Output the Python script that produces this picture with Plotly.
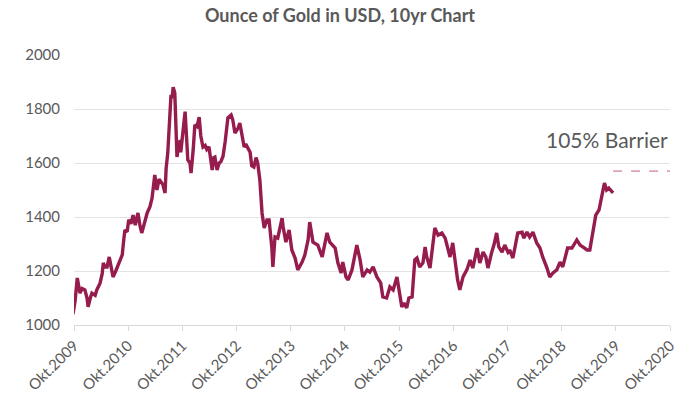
import plotly.graph_objects as go

# time in decimal years, price in USD per ounce
years = [2009.73, 2009.77, 2009.81, 2009.82, 2009.86, 2009.90, 2009.95, 2009.99, 2010.01, 2010.05,
         2010.08, 2010.14, 2010.17, 2010.23, 2010.27, 2010.29, 2010.32, 2010.36, 2010.40, 2010.43,
         2010.47, 2010.52, 2010.60, 2010.64, 2010.67, 2010.69, 2010.73, 2010.76, 2010.80, 2010.84,
         2010.88, 2010.91, 2010.93, 2010.97, 2011.00, 2011.06, 2011.10, 2011.15, 2011.19, 2011.24,
         2011.28, 2011.32, 2011.36, 2011.39, 2011.43, 2011.45, 2011.48, 2011.50, 2011.54, 2011.56,
         2011.58, 2011.61, 2011.63, 2011.65, 2011.67, 2011.71, 2011.72, 2011.76, 2011.80, 2011.82,
         2011.83, 2011.85, 2011.89, 2011.91, 2011.95, 2011.98, 2012.02, 2012.06, 2012.09, 2012.13,
         2012.17, 2012.20, 2012.24, 2012.28, 2012.30, 2012.33, 2012.35, 2012.39, 2012.43, 2012.46,
         2012.50, 2012.54, 2012.59, 2012.65, 2012.68, 2012.72, 2012.78, 2012.81, 2012.85, 2012.89,
         2012.92, 2012.96, 2013.00, 2013.03, 2013.07, 2013.11, 2013.14, 2013.18, 2013.22, 2013.26,
         2013.31, 2013.35, 2013.40, 2013.42, 2013.46, 2013.51, 2013.59, 2013.61, 2013.66, 2013.72,
         2013.77, 2013.83, 2013.88, 2013.96, 2014.01, 2014.07, 2014.10, 2014.16, 2014.25, 2014.33,
         2014.38, 2014.42, 2014.47, 2014.57, 2014.62, 2014.68, 2014.71, 2014.77, 2014.81, 2014.88,
         2014.97, 2015.03, 2015.08, 2015.16, 2015.21, 2015.27, 2015.34, 2015.41, 2015.45, 2015.52,
         2015.58, 2015.64, 2015.71, 2015.75, 2015.80, 2015.84, 2015.89, 2015.93, 2015.99, 2016.04,
         2016.08, 2016.13, 2016.19, 2016.23, 2016.26, 2016.32, 2016.37, 2016.41, 2016.47, 2016.54,
         2016.60, 2016.65, 2016.69, 2016.74, 2016.80, 2016.83, 2016.87, 2016.93, 2017.00, 2017.06,
         2017.11, 2017.19, 2017.24, 2017.30, 2017.35, 2017.39, 2017.46, 2017.50, 2017.55, 2017.59,
         2017.65, 2017.70, 2017.76, 2017.79, 2017.85, 2017.90, 2017.94, 2018.02, 2018.05, 2018.11,
         2018.16, 2018.22, 2018.29, 2018.35, 2018.40, 2018.48, 2018.53, 2018.59, 2018.66, 2018.72,
         2018.77, 2018.86, 2018.94, 2019.03, 2019.09, 2019.14, 2019.22, 2019.27, 2019.33, 2019.38,
         2019.44, 2019.50, 2019.54, 2019.58, 2019.62, 2019.70]

prices = [1040, 1090, 1174, 1160, 1118, 1135, 1130, 1100, 1067, 1100,
          1118, 1110, 1130, 1155, 1190, 1230, 1215, 1215, 1252, 1220,
          1178, 1200, 1241, 1260, 1320, 1352, 1345, 1390, 1375, 1407,
          1370, 1400, 1415, 1365, 1341, 1385, 1415, 1437, 1470, 1556,
          1500, 1540, 1530, 1520, 1489, 1580, 1637, 1700, 1852, 1840,
          1881, 1859, 1750, 1622, 1650, 1685, 1640, 1720, 1790, 1720,
          1680, 1611, 1600, 1563, 1650, 1741, 1735, 1770, 1700, 1659,
          1665, 1650, 1660, 1590, 1574, 1620, 1622, 1574, 1600, 1605,
          1625, 1680, 1767, 1778, 1760, 1711, 1730, 1748, 1700, 1659,
          1670, 1655, 1640, 1590, 1585, 1620, 1600, 1537, 1415, 1359,
          1389, 1389, 1289, 1215, 1326, 1322, 1396, 1363, 1307, 1352,
          1278, 1248, 1204, 1233, 1259, 1315, 1381, 1307, 1296, 1252,
          1307, 1341, 1307, 1285, 1230, 1193, 1233, 1178, 1167, 1204,
          1296, 1241, 1178, 1204, 1196, 1215, 1178, 1156, 1104, 1100,
          1141, 1130, 1178, 1119, 1067, 1081, 1063, 1100, 1104, 1241,
          1248, 1215, 1230, 1289, 1252, 1211, 1304, 1359, 1333, 1341,
          1322, 1289, 1252, 1304, 1204, 1167, 1130, 1178, 1204, 1241,
          1211, 1285, 1230, 1270, 1252, 1211, 1270, 1296, 1341, 1289,
          1270, 1296, 1270, 1278, 1248, 1304, 1341, 1344, 1322, 1344,
          1326, 1344, 1304, 1285, 1252, 1211, 1178, 1193, 1204, 1233,
          1215, 1285, 1285, 1315, 1296, 1289, 1278, 1278, 1341, 1407,
          1426, 1489, 1526, 1500, 1507, 1489]

barrier_years = [2019.70, 2020.75]
barrier_level = [1570, 1570]

tick_years = [2009.75 + i for i in range(12)]
tick_labels = ["Okt.%d" % (2009 + i) for i in range(12)]
y_ticks = [1000, 1200, 1400, 1600, 1800, 2000]

grey = "#595959"
fig = go.Figure()
fig.add_trace(go.Scatter(x=years, y=prices, mode="lines",
                         line=dict(color="#961c4e", width=3.4), showlegend=False))
fig.add_trace(go.Scatter(x=barrier_years, y=barrier_level, mode="lines",
                         line=dict(color="#e0a3b5", width=1.6, dash="dash"), showlegend=False))

fig.add_annotation(x=2020.75, y=1570, xref="x", yref="y", text="105% Barrier",
                   showarrow=False, xanchor="right", yanchor="bottom", yshift=17,
                   font=dict(family="Lato", size=21, color=grey))

fig.update_layout(
    width=680, height=394,
    margin=dict(l=60, r=10, t=55, b=69, autoexpand=False),
    paper_bgcolor="white", plot_bgcolor="white",
    font=dict(family="Lato", size=15, color=grey),
    title=dict(text="<b>Ounce of Gold in USD, 10yr Chart</b>", x=0.5, xanchor="center",
               y=0.96, yanchor="middle", font=dict(family="Lato", size=18, color=grey)),
)
fig.update_xaxes(range=[2009.75, 2020.75], tickvals=tick_years, ticktext=tick_labels,
                 domain=[0.023, 1],
                 tickangle=-45, showgrid=False, zeroline=False, automargin=False,
                 showline=True, linecolor="#d9d9d9", linewidth=1,
                 ticks="outside", ticklen=5, tickcolor="#d9d9d9",
                 tickfont=dict(family="Lato", size=15, color=grey))
fig.update_yaxes(range=[1000, 2000], tickvals=y_ticks, anchor="free", position=0,
                 showgrid=True, gridcolor="#e3e3e3", gridwidth=1, zeroline=False,
                 automargin=False, ticks="",
                 tickfont=dict(family="Lato", size=15, color=grey))

fig.write_html("out.html")
